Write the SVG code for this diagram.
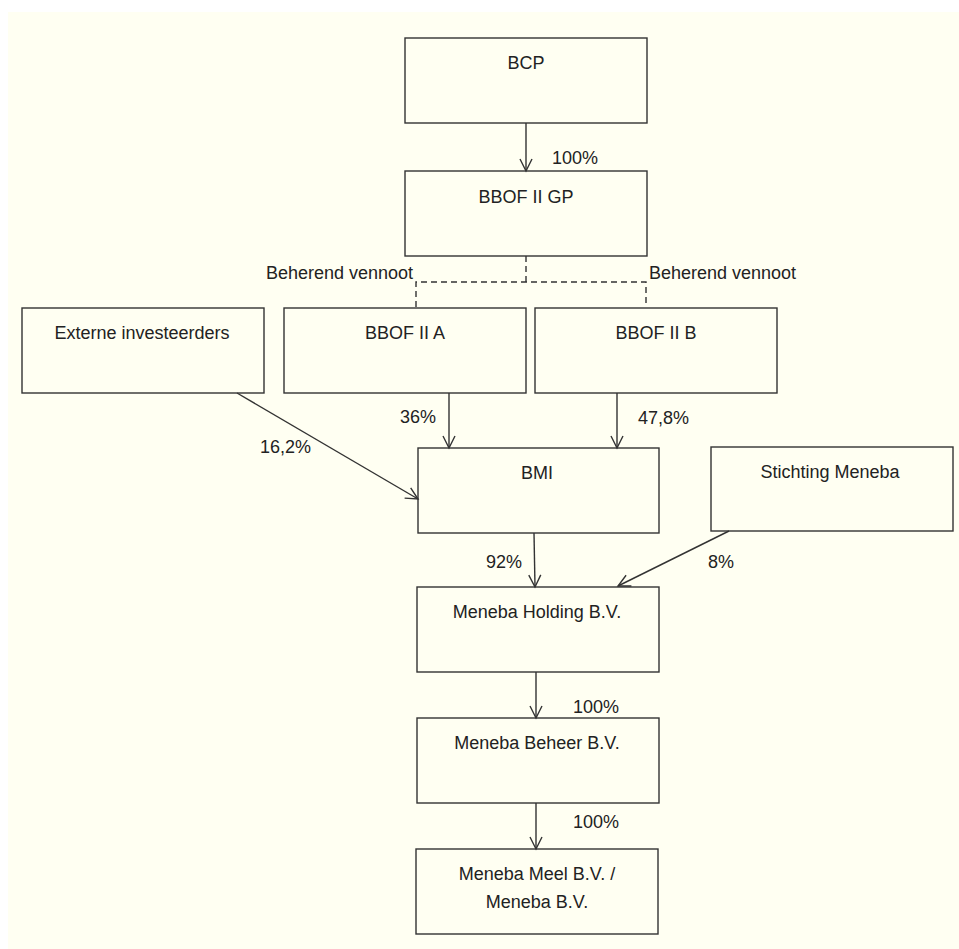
<svg xmlns="http://www.w3.org/2000/svg" width="959" height="949" viewBox="0 0 959 949">
<defs>
<style>
.box{fill:none;stroke:#333;stroke-width:1.4}
.t{font-family:"Liberation Sans",Arial,sans-serif;font-size:18px;fill:#222}
.c{text-anchor:middle}
.ln{fill:none;stroke:#333;stroke-width:1.4}
.dash{fill:none;stroke:#333;stroke-width:1.4;stroke-dasharray:6,4}
</style>
<marker id="arr" markerUnits="userSpaceOnUse" markerWidth="16" markerHeight="16" viewBox="-14 -8 16 16" refX="0" refY="0" orient="auto">
<path d="M-12,-6 L0,0 L-12,6" fill="none" stroke="#333" stroke-width="1.4"/>
</marker>
</defs>
<rect x="0" y="0" width="959" height="949" fill="#ffffff"/>
<rect x="8" y="12" width="951" height="937" fill="#fffff2"/>

<g id="connectors">
<line class="ln" x1="526" y1="123" x2="526" y2="171" marker-end="url(#arr)"/>
<polyline class="dash" points="526,256 526,282"/>
<polyline class="dash" points="416,307 416,282 646,282 646,307"/>
<line class="ln" x1="449" y1="393" x2="449" y2="448" marker-end="url(#arr)"/>
<line class="ln" x1="617" y1="393" x2="617" y2="448" marker-end="url(#arr)"/>
<line class="ln" x1="237" y1="393" x2="418" y2="499" marker-end="url(#arr)"/>
<line class="ln" x1="534" y1="533" x2="535" y2="587" marker-end="url(#arr)"/>
<line class="ln" x1="729" y1="531" x2="618" y2="586" marker-end="url(#arr)"/>
<line class="ln" x1="536" y1="672" x2="536" y2="718" marker-end="url(#arr)"/>
<line class="ln" x1="536" y1="803" x2="536" y2="849" marker-end="url(#arr)"/>
<text class="t" x="552" y="164">100%</text>
<text class="t" x="266" y="279">Beherend vennoot</text>
<text class="t" x="649" y="279">Beherend vennoot</text>
<text class="t" x="400" y="423">36%</text>
<text class="t" x="638" y="424">47,8%</text>
<text class="t" x="260" y="453">16,2%</text>
<text class="t" x="486" y="568">92%</text>
<text class="t" x="708" y="568">8%</text>
<text class="t" x="573" y="713">100%</text>
<text class="t" x="573" y="828">100%</text>
</g>

<g id="bcp">
<rect class="box" x="405" y="38" width="242" height="85"/>
<text class="t c" x="526" y="69">BCP</text>
</g>
<g id="bbof-gp">
<rect class="box" x="405" y="171" width="242" height="85"/>
<text class="t c" x="526" y="203">BBOF II GP</text>
</g>
<g id="externe">
<rect class="box" x="22" y="308" width="242" height="85"/>
<text class="t c" x="142" y="339">Externe investeerders</text>
</g>
<g id="bbof-a">
<rect class="box" x="284" y="308" width="242" height="85"/>
<text class="t c" x="405" y="339">BBOF II A</text>
</g>
<g id="bbof-b">
<rect class="box" x="535" y="308" width="242" height="85"/>
<text class="t c" x="656" y="339">BBOF II B</text>
</g>
<g id="bmi">
<rect class="box" x="418" y="448" width="241" height="85"/>
<text class="t c" x="537" y="479">BMI</text>
</g>
<g id="stichting">
<rect class="box" x="711" y="447" width="242" height="84"/>
<text class="t c" x="830" y="478">Stichting Meneba</text>
</g>
<g id="holding">
<rect class="box" x="417" y="587" width="242" height="85"/>
<text class="t c" x="537" y="618">Meneba Holding B.V.</text>
</g>
<g id="beheer">
<rect class="box" x="417" y="718" width="242" height="85"/>
<text class="t c" x="537" y="749">Meneba Beheer B.V.</text>
</g>
<g id="meel">
<rect class="box" x="416" y="849" width="242" height="85"/>
<text class="t c" x="537" y="880">Meneba Meel B.V. /</text>
<text class="t c" x="537" y="908">Meneba B.V.</text>
</g>
</svg>
